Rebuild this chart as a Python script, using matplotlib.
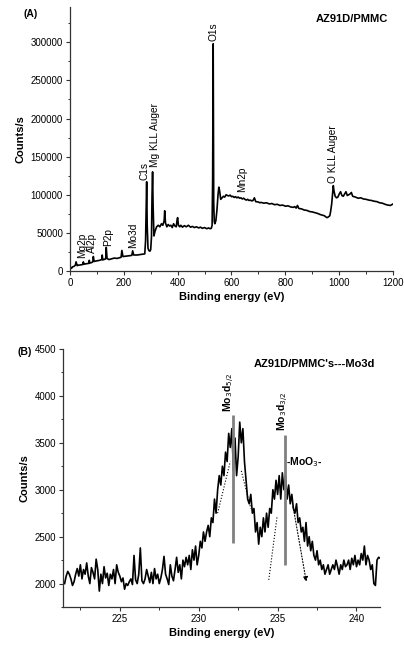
import numpy as np
import matplotlib
matplotlib.use('Agg')
import matplotlib.pyplot as plt
from matplotlib.ticker import MultipleLocator

plt.rcParams['font.family'] = ['Liberation Sans', 'DejaVu Sans']

# (A) survey spectrum
be_a = [0, 3, 6, 10, 15, 20, 23, 25, 27, 30,
        40, 48, 50, 52, 54, 60, 70, 72, 74, 80,
        85, 87, 90, 95, 110, 118, 120, 122, 125, 130,
        133, 135, 138, 145, 155, 165, 175, 185, 190, 193,
        197, 210, 220, 230, 233, 237, 250, 260, 270, 278,
        281, 283, 285, 287, 290, 293, 297, 300, 303, 305,
        307, 309, 312, 316, 322, 328, 334, 340, 345, 350,
        352, 355, 360, 365, 370, 375, 380, 385, 390, 395,
        398, 400, 403, 408, 412, 418, 425, 432, 440, 448,
        455, 462, 470, 478, 485, 492, 500, 508, 515, 520,
        525, 528, 530, 531, 532, 533, 534, 536, 538, 542,
        546, 550, 553, 556, 560, 565, 570, 575, 580, 585,
        590, 595, 600, 605, 610, 615, 620, 625, 630, 635,
        640, 645, 650, 655, 660, 665, 670, 675, 680, 685,
        690, 700, 705, 710, 720, 730, 740, 750, 760, 770,
        780, 790, 800, 810, 820, 830, 835, 840, 845, 850,
        860, 870, 880, 890, 900, 910, 920, 930, 940, 945,
        950, 955, 960, 965, 968, 972, 975, 978, 981, 985,
        990, 995, 1000, 1005, 1010, 1015, 1020, 1025, 1030, 1035,
        1040, 1045, 1050, 1060, 1070, 1080, 1090, 1100, 1110, 1120,
        1130, 1140, 1150, 1160, 1170, 1180, 1190, 1200]
cps_a = [1000, 5000, 3500, 5500, 6000, 7500, 12000, 9500, 7000, 7500,
         8000, 8500, 12000, 9000, 9000, 9500, 10000, 14000, 10500, 11000,
         12000, 19000, 12500, 13000, 14000, 15000, 21000, 14500, 15000, 15500,
         16000, 31000, 16500, 15000, 16000, 17000, 16500, 17500, 18000, 27000,
         19000, 19500, 20000, 20500, 26500, 21000, 21000, 21500, 22000, 22500,
         40000, 80000, 117000, 60000, 30000, 27000, 26000, 28000, 45000, 100000,
         130000, 85000, 46000, 52000, 58000, 60000, 58000, 62000, 60000, 66000,
         79000, 63000, 58000, 61000, 59000, 60000, 57000, 62000, 59000, 58000,
         67000, 70000, 60000, 58000, 60000, 57500, 59500, 58000, 60000, 57500,
         58500, 57000, 58000, 56500, 57500, 56000, 57000, 55500, 56500, 55500,
         56000, 60000, 120000, 230000, 298000, 200000, 90000, 65000, 62000, 66000,
         80000, 100000, 110000, 105000, 94000, 96000, 98000, 97000, 100000, 99000,
         98500, 99500, 97500, 98000, 96500, 97500, 96000, 97000, 95500, 96000,
         94500, 95500, 94000, 93000, 94000, 92500, 93000, 92000, 92500, 96000,
         91000, 90500, 89500, 90000, 89000, 89500, 88000, 88500, 87000, 87500,
         86000, 86500, 85000, 85500, 84000, 83500, 84500, 82500, 86000, 82000,
         81500, 80000, 79500, 78000, 77500, 76500, 75500, 74000, 73000, 72500,
         71000, 70000, 71000, 72500, 78000, 88000, 100000, 112000, 104000, 98000,
         96000, 97000, 101000, 104000, 99000, 98000, 101000, 104000, 99000, 100000,
         101000, 103000, 98000, 97000, 95500, 96000, 94500, 94000, 93000, 92500,
         91500, 91000, 89500, 89000, 87500, 86500, 86000, 88000]

labels_a = ['Mg2p', 'Al2p', 'P2p', 'Mo3d', 'C1s', 'Mg KLL Auger', 'O1s', 'Mn2p', 'O KLL Auger']
label_x_a = [44, 81, 142, 235, 278, 316, 534, 638, 978]
label_y_a = [17000, 23000, 33000, 30000, 120000, 137000, 302000, 104000, 115000]

# (B) Mo3d high-resolution spectrum, 0.1 eV steps from 221.5 eV
cps_b = [2000, 2080, 2130, 2100, 2050, 1980, 2020, 2100, 2160, 2080,
         2200, 2050, 2150, 2100, 2220, 2080, 2000, 2170, 2120, 2050,
         2260, 2150, 1920, 2100, 2000, 2180, 2060, 2110, 1980, 2100,
         2050, 2150, 2000, 2200, 2120, 2080, 2020, 2060, 1940, 2000,
         1980, 2020, 2050, 1990, 2300, 2040, 2000, 2100, 2380, 2030,
         2000, 2050, 2150, 2080, 2010, 2120, 2000, 2160, 2050, 2100,
         2000, 2060, 2150, 2290, 2100, 2050, 1990, 2200, 2080, 2030,
         2150, 2280, 2120, 2200, 2050, 2250, 2180, 2280, 2200, 2300,
         2150, 2360, 2250, 2400, 2200, 2300, 2450, 2380, 2550, 2450,
         2550, 2620, 2500, 2700, 2650, 2900, 2750, 3000, 3150, 3050,
         3250, 3150, 3400, 3300, 3600, 3450, 3650, 3200, 3550, 3150,
         3350, 3720, 3500, 3650, 3300, 3100, 2900, 2850, 2950, 2750,
         2800, 2550, 2650, 2420, 2600, 2500, 2700, 2550, 2750, 2600,
         2800, 2750, 3000, 2900, 3100, 2950, 3150, 2900, 3180, 3000,
         3150, 2900, 3050, 2850, 2950, 2800, 2750, 2850, 2650, 2700,
         2550, 2600, 2450, 2650, 2400, 2500, 2350, 2450, 2300, 2250,
         2350, 2200, 2250, 2150, 2200, 2100, 2150, 2200, 2100, 2150,
         2200, 2150, 2250, 2180, 2100, 2200, 2150, 2250, 2180, 2200,
         2250, 2150, 2270, 2200, 2300, 2180, 2250, 2200, 2320, 2250,
         2400, 2200, 2300, 2250, 2150, 2200, 2000, 1980, 2250, 2280,
         2270]
be_b = 221.5 + 0.1 * np.arange(len(cps_b))

peak_pos_b = [232.2, 235.5]
peak_lo_b = [2430, 2200]
peak_hi_b = [3800, 3580]

fig = plt.figure(figsize=(4.04, 6.57), dpi=100)

# ---- panel A
ax1 = fig.add_axes([0.173, 0.5875, 0.80, 0.4015])
ax1.plot(be_a, cps_a, color='black', lw=1.2)
ax1.set_xlim(0, 1200)
ax1.set_ylim(0, 346000)
ax1.xaxis.set_major_locator(MultipleLocator(200))
ax1.xaxis.set_minor_locator(MultipleLocator(100))
ax1.yaxis.set_major_locator(MultipleLocator(50000))
ax1.yaxis.set_minor_locator(MultipleLocator(25000))
ax1.set_xlabel('Binding energy (eV)', fontsize=8, fontweight='bold', labelpad=3)
ax1.set_ylabel('Counts/s', fontsize=8, fontweight='bold', labelpad=4)
for lab, x, y in zip(labels_a, label_x_a, label_y_a):
    ax1.text(x, y, lab, rotation=90, ha='center', va='bottom', fontsize=7.3)
ax1.text(0.985, 0.955, 'AZ91D/PMMC', transform=ax1.transAxes, ha='right', va='center',
         fontsize=8, fontweight='bold')
fig.text(23 / 404, 1 - 14 / 657, '(A)', fontsize=7.5, fontweight='bold', va='center')

# ---- panel B
ax2 = fig.add_axes([0.156, 0.076, 0.785, 0.393])
ax2.plot(be_b, cps_b, color='black', lw=1.2)
ax2.vlines(peak_pos_b, peak_lo_b, peak_hi_b, color='#808080', lw=2)
ax2.plot([231.2, 232.0], [2750, 3300], ls=':', color='black', lw=0.8)
ax2.plot([232.7, 233.3], [3200, 2800], ls=':', color='black', lw=0.8)
ax2.plot([234.44, 234.97], [2040, 2720], ls=':', color='black', lw=0.8)
ax2.annotate('', xy=(236.85, 1990), xytext=(235.95, 2850),
             arrowprops=dict(arrowstyle='-|>', ls=':', color='black', lw=0.8, mutation_scale=7))
ax2.text(231.95, 3830, 'Mo$_3$d$_{5/2}$', rotation=90, ha='center', va='bottom',
         fontsize=7.5, fontweight='bold')
ax2.text(235.35, 3620, 'Mo$_3$d$_{3/2}$', rotation=90, ha='center', va='bottom',
         fontsize=7.5, fontweight='bold')
ax2.text(235.55, 3290, '-MoO$_3$-', ha='left', va='center', fontsize=7.5, fontweight='bold')
ax2.set_xlim(221.4, 241.5)
ax2.set_ylim(1750, 4500)
ax2.xaxis.set_major_locator(MultipleLocator(5))
ax2.xaxis.set_minor_locator(MultipleLocator(2.5))
ax2.yaxis.set_major_locator(MultipleLocator(500))
ax2.yaxis.set_minor_locator(MultipleLocator(250))
ax2.set_xlabel('Binding energy (eV)', fontsize=8, fontweight='bold', labelpad=3)
ax2.set_ylabel('Counts/s', fontsize=8, fontweight='bold', labelpad=4)
ax2.text(0.985, 0.94, "AZ91D/PMMC's---Mo3d", transform=ax2.transAxes, ha='right', va='center',
         fontsize=8, fontweight='bold')
fig.text(17 / 404, 1 - 352 / 657, '(B)', fontsize=7.5, fontweight='bold', va='center')

for ax in (ax1, ax2):
    ax.spines['top'].set_visible(False)
    ax.spines['right'].set_visible(False)
    for s in ('left', 'bottom'):
        ax.spines[s].set_color('#333333')
        ax.spines[s].set_linewidth(0.9)
    ax.tick_params(which='major', direction='out', length=3, width=0.8, labelsize=7, pad=2, color='#333333')
    ax.tick_params(which='minor', direction='out', length=1.8, width=0.7, color='#333333')

fig.savefig('out.png', dpi=100)
